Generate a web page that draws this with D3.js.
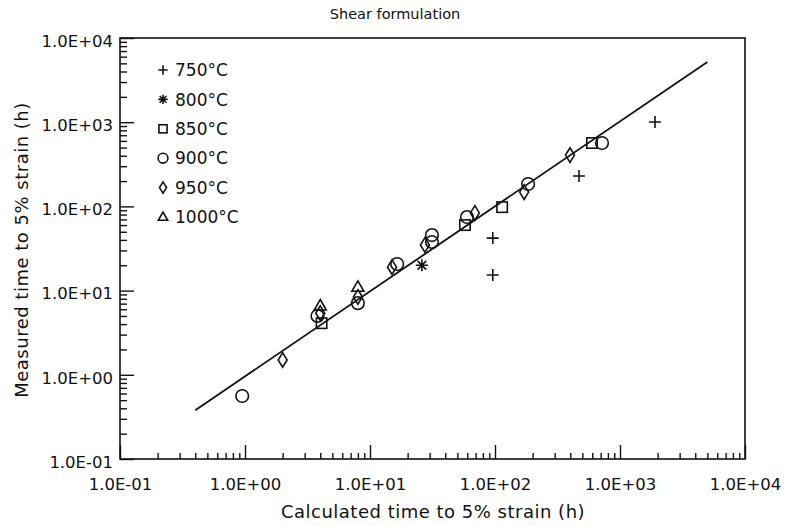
<!DOCTYPE html>
<html>
<head>
<meta charset="utf-8">
<script src="https://cdn.jsdelivr.net/npm/d3@7"></script>
<style>
  html, body { margin: 0; padding: 0; background: #fff; }
  svg { display: block; }
  text { font-family: "DejaVu Sans", sans-serif; fill: #111; }
</style>
</head>
<body>
<svg id="chart" width="787" height="526"></svg>
<script>
// ---------- data ----------
const series = ["750°C", "800°C", "850°C", "900°C", "950°C", "1000°C"];
const symbols = ["plus", "asterisk", "square", "circle", "diamond", "triangle"];

const x750 = [96, 96, 470, 1905];
const y750 = [42, 15.3, 230, 1005];
const x800 = [26];
const y800 = [20];
const x850 = [4.1, 57.5, 114, 597];
const y850 = [4.1, 60, 98, 566];
const x900 = [0.95, 3.8, 8.0, 16.5, 31.3, 31.3, 59.7, 184, 718];
const y900 = [0.56, 5.0, 7.1, 20.7, 45.7, 37.8, 74.8, 184.5, 566];
const x950 = [2.0, 4.0, 8.0, 15, 27.5, 69, 171, 398];
const y950 = [1.5, 5.4, 8.4, 19, 34.8, 83.6, 148, 407];
const x1000 = [4.0, 8.0];
const y1000 = [6.6, 11];

const fitX = [0.4, 5000];
const fitY = [0.38, 5200];

const xTickValues = [0.1, 1, 10, 100, 1000, 10000];
const xTickLabels = ["1.0E-01", "1.0E+00", "1.0E+01", "1.0E+02", "1.0E+03", "1.0E+04"];
const yTickValues = [0.1, 1, 10, 100, 1000, 10000];
const yTickLabels = ["1.0E-01", "1.0E+00", "1.0E+01", "1.0E+02", "1.0E+03", "1.0E+04"];

const titleText = "Shear formulation";
const xTitle = "Calculated time to 5% strain (h)";
const yTitle = "Measured time to 5% strain (h)";

const seriesX = [x750, x800, x850, x900, x950, x1000];
const seriesY = [y750, y800, y850, y900, y950, y1000];

// ---------- layout ----------
const svg = d3.select("#chart");
const L = 120, R = 745, T = 38, B = 459;
const x = d3.scaleLog().domain([0.1, 10000]).range([L, R]);
const y = d3.scaleLog().domain([0.1, 10000]).range([B, T]);
const ink = "#111";

function logTicks(lo, hi) {
  const out = [];
  for (let e = Math.log10(lo); e < Math.log10(hi); e++) {
    for (let m = 1; m <= 9; m++) out.push(m * Math.pow(10, e));
  }
  out.push(hi);
  return out;
}
const isMajor = v => Math.abs(Math.log10(v) - Math.round(Math.log10(v))) < 1e-9;
const allX = logTicks(0.1, 10000);
const allY = logTicks(0.1, 10000);

// frame
svg.append("rect")
  .attr("x", L).attr("y", T).attr("width", R - L).attr("height", B - T)
  .attr("fill", "none").attr("stroke", ink).attr("stroke-width", 1.6);

// x axis (ticks inward)
const xLabel = v => { const i = xTickValues.findIndex(t => Math.abs(t - v) / t < 1e-9); return i >= 0 ? xTickLabels[i] : ""; };
const gx = svg.append("g").attr("transform", `translate(0,${B})`)
  .call(d3.axisBottom(x).tickValues(allX).tickFormat(xLabel).tickSizeOuter(0).tickSizeInner(-6).tickPadding(19));
gx.select(".domain").remove();
gx.selectAll(".tick line").attr("stroke", ink).attr("stroke-width", 1.4)
  .attr("y2", d => isMajor(d) ? -14 : -6);
gx.selectAll(".tick text").attr("font-size", 16.5).attr("font-family", "DejaVu Sans").attr("fill", ink);

// y axis (ticks inward)
const yLabel = v => { const i = yTickValues.findIndex(t => Math.abs(t - v) / t < 1e-9); return i >= 0 ? yTickLabels[i] : ""; };
const gy = svg.append("g").attr("transform", `translate(${L},0)`)
  .call(d3.axisLeft(y).tickValues(allY).tickFormat(yLabel).tickSizeOuter(0).tickSizeInner(-7).tickPadding(7));
gy.select(".domain").remove();
gy.selectAll(".tick line").attr("stroke", ink).attr("stroke-width", 1.4)
  .attr("x2", d => isMajor(d) ? 14 : 7);
gy.selectAll(".tick text").attr("font-size", 16.5).attr("font-family", "DejaVu Sans").attr("fill", ink)
  .attr("dy", "0.5em");

// fitted line
svg.append("line")
  .attr("x1", x(fitX[0])).attr("y1", y(fitY[0]))
  .attr("x2", x(fitX[1])).attr("y2", y(fitY[1]))
  .attr("stroke", ink).attr("stroke-width", 1.8);

// marker drawing
function marker(g, type, cx, cy, s) {
  let el;
  if (type === "plus") {
    const h = 6 * s;
    el = g.append("path").attr("d", `M${cx - h},${cy}H${cx + h}M${cx},${cy - h}V${cy + h}`);
  } else if (type === "asterisk") {
    const h = 6 * s, d = h * 0.72;
    el = g.append("path").attr("d",
      `M${cx},${cy - h}V${cy + h}M${cx - h},${cy}H${cx + h}` +
      `M${cx - d},${cy - d}L${cx + d},${cy + d}M${cx - d},${cy + d}L${cx + d},${cy - d}`);
  } else if (type === "square") {
    const h = 5.2 * s;
    el = g.append("rect").attr("x", cx - h).attr("y", cy - h).attr("width", 2 * h).attr("height", 2 * h);
  } else if (type === "circle") {
    el = g.append("circle").attr("cx", cx).attr("cy", cy).attr("r", 6.3 * s);
  } else if (type === "diamond") {
    const w = 4.5 * s, h = 7.3 * s;
    el = g.append("path").attr("d", `M${cx},${cy - h}L${cx + w},${cy}L${cx},${cy + h}L${cx - w},${cy}Z`);
  } else if (type === "triangle") {
    const w = 6 * s, h = 10.5 * s;
    el = g.append("path").attr("d", `M${cx},${cy - h * 0.6}L${cx + w},${cy + h * 0.4}L${cx - w},${cy + h * 0.4}Z`);
  }
  el.attr("fill", "none").attr("stroke", ink).attr("stroke-width", 1.6);
}

// points
const gp = svg.append("g");
series.forEach((name, i) => {
  seriesX[i].forEach((xv, j) => {
    marker(gp, symbols[i], x(xv), y(seriesY[i][j]), 1);
  });
});

// legend
const gl = svg.append("g");
const legY0 = 70, legDy = 29.4;
series.forEach((name, i) => {
  const ly = legY0 + i * legDy;
  marker(gl, symbols[i], 163, ly, 0.78);
  gl.append("text").attr("x", 175).attr("y", ly).attr("dy", "0.36em")
    .attr("font-size", 17).text(name);
});

// titles
svg.append("text").attr("x", 395).attr("y", 19).attr("text-anchor", "middle")
  .attr("font-size", 14.5).text(titleText);
svg.append("text").attr("x", 433).attr("y", 518).attr("text-anchor", "middle")
  .attr("font-size", 18).attr("letter-spacing", 0.5).text(xTitle);
svg.append("text").attr("transform", "translate(28,250) rotate(-90)").attr("text-anchor", "middle")
  .attr("font-size", 18).attr("letter-spacing", 0.5).text(yTitle);
</script>
</body>
</html>
